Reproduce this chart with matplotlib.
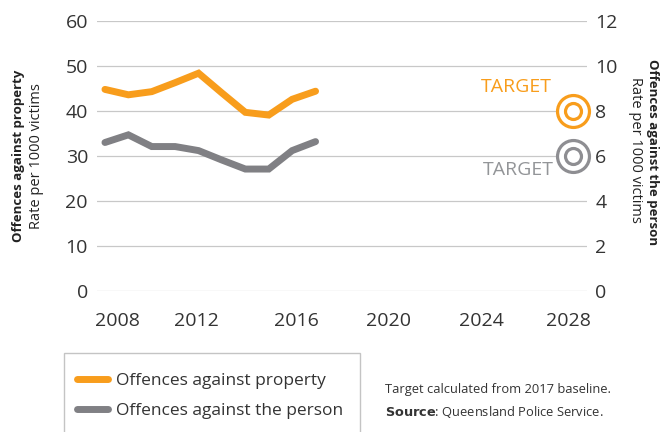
import matplotlib
matplotlib.use("Agg")
import matplotlib.pyplot as plt
from matplotlib.patches import Rectangle

plt.rcParams['font.family'] = ['Open Sans', 'DejaVu Sans']

# data
years = [2008, 2009, 2010, 2011, 2012, 2013, 2014, 2015, 2016, 2017]
property_rate = [44.8, 43.6, 44.3, 46.3, 48.4, 44.0, 39.7, 39.1, 42.6, 44.4]
person_rate = [33.0, 34.7, 32.1, 32.1, 31.2, 29.1, 27.1, 27.1, 31.2, 33.2]

target_year = 2028
property_target = 40   # = 8 on the right-hand scale
person_target = 30     # = 6 on the right-hand scale

left_ticks = [0, 10, 20, 30, 40, 50, 60]
right_ticks = [0, 2, 4, 6, 8, 10, 12]
year_labels = ['2008', '2012', '2016', '2020', '2024', '2028']
year_label_pos = [2008.55, 2011.9, 2016.2, 2020.1, 2024.1, 2027.8]

ORANGE = '#F89D1C'
GREY = '#808084'
GREY_T = '#8E8E92'
TXT = '#333333'

fig = plt.figure(figsize=(6.71, 4.32), dpi=100)
ax = fig.add_axes([97/671, 1 - 291/432, 490/671, 270/432])

ax.plot(years, property_rate, color=ORANGE, lw=5, solid_capstyle='round',
        solid_joinstyle='miter', label='Offences against property', zorder=3)
ax.plot(years, person_rate, color=GREY, lw=5, solid_capstyle='round',
        solid_joinstyle='miter', label='Offences against the person', zorder=3)

# target rings
for val, col in [(property_target, ORANGE), (person_target, GREY_T)]:
    ax.plot([target_year], [val], marker='o', ms=23, mfc='white', mec=col,
            mew=2.3, zorder=4, clip_on=False)
    ax.plot([target_year], [val], marker='o', ms=11.5, mfc='none', mec=col,
            mew=2.3, zorder=5, clip_on=False)

ax.text(2025.6, 45.3, 'TARGET', color=ORANGE, fontsize=14, ha='center', va='center')
ax.text(2025.65, 26.9, 'TARGET', color='#939598', fontsize=14, ha='center', va='center')

ax.set_xlim(2007.66, 2028.6)
ax.set_ylim(0, 60)
ax.set_yticks(left_ticks)
ax.set_xticks(year_label_pos)
ax.set_xticklabels(year_labels)
ax.grid(axis='y', color='#c8c8c8', lw=0.9)
ax.set_axisbelow(True)
for s in ax.spines.values():
    s.set_visible(False)
ax.tick_params(axis='y', length=0, pad=6.5, labelsize=14, labelcolor=TXT)
ax.tick_params(axis='x', length=0, pad=15, labelsize=14, labelcolor=TXT)

ax2 = ax.twinx()
ax2.set_ylim(0, 12)
ax2.set_yticks(right_ticks)
for s in ax2.spines.values():
    s.set_visible(False)
ax2.tick_params(axis='y', length=0, pad=6, labelsize=14, labelcolor=TXT)

# axis titles
cy = 1 - 156/432
fig.text(19/671, cy, 'Offences against property', rotation=90, fontsize=9.5,
         fontweight='bold', color='#222222', ha='center', va='center')
fig.text(37/671, cy, 'Rate per 1000 victims', rotation=90, fontsize=10.5,
         color='#222222', ha='center', va='center')
fig.text(653/671, 1 - 152/432, 'Offences against the person', rotation=-90,
         fontsize=9.5, fontweight='bold', color='#222222', ha='center', va='center')
fig.text(635/671, 1 - 150/432, 'Rate per 1000 victims', rotation=-90,
         fontsize=10.5, color='#222222', ha='center', va='center')

# legend box, open at the bottom edge
fig.patches.append(Rectangle((64/671, -0.1), 296/671, 0.1 + (432 - 353)/432,
                             transform=fig.transFigure, fill=False,
                             edgecolor='#c4c4c4', lw=1))
handles, labels = ax.get_legend_handles_labels()
fig.legend(handles, labels, loc='center left',
           bbox_to_anchor=(61/671, 1 - 396/432), frameon=False,
           fontsize=12.5, handlelength=1.8, handletextpad=0.45,
           labelspacing=0.75, labelcolor=TXT)

fig.text(385/671, 1 - 390/432, 'Target calculated from 2017 baseline.',
         fontsize=9.3, color=TXT, va='center')
fig.text(385/671, 1 - 412/432, r'$\bf{Source}$: Queensland Police Service.',
         fontsize=9.3, color=TXT, va='center')

fig.savefig('out.png', dpi=100)
